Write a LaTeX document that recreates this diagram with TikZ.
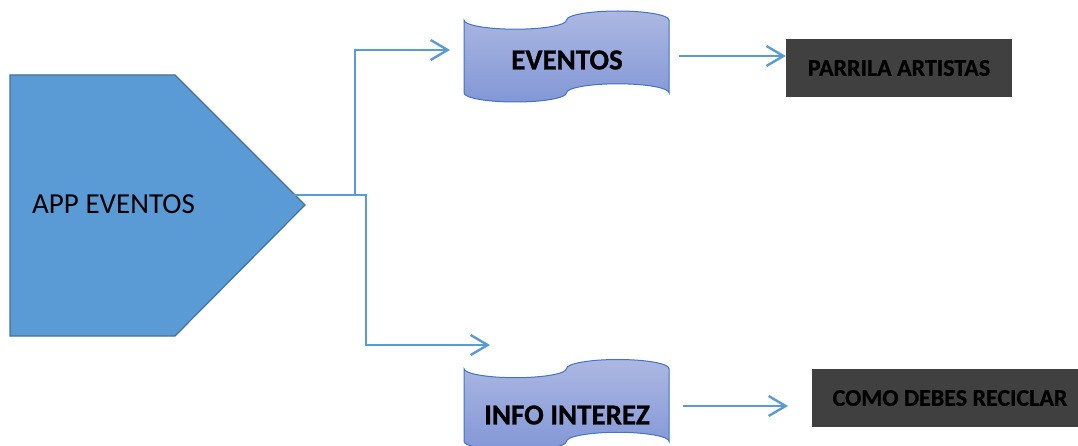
\documentclass[tikz,border=0pt]{standalone}
\usepackage{fontspec}
\setmainfont{Carlito}[BoldFeatures={FakeBold=0.8}]
\usetikzlibrary{arrows.meta}
\definecolor{appfill}{HTML}{5B9BD5}
\definecolor{appline}{HTML}{41719C}
\definecolor{connc}{HTML}{5B9BD5}
\definecolor{tapetop}{RGB}{172,184,226}
\definecolor{tapebot}{RGB}{130,151,214}
\definecolor{tapeline}{HTML}{4472C4}
\definecolor{darkbox}{HTML}{404040}
\newcommand\tapeshape{(0,-9.1) arc[start angle=180,end angle=360,x radius=51.25,y radius=9.1] arc[start angle=180,end angle=0,x radius=51.25,y radius=9.1] -- (205,-81.9) arc[start angle=0,end angle=180,x radius=51.25,y radius=9.1] arc[start angle=0,end angle=-180,x radius=51.25,y radius=9.1] -- cycle}
\begin{document}
\begin{tikzpicture}[x=1pt,y=1pt,
  connline/.style={draw=connc, line width=2.4pt},
  arr/.style={connline, -{Straight Barb[length=17pt,width=20pt]}},
  tapestyle/.style={top color=tapetop, bottom color=tapebot, draw=tapeline, line width=1pt},
  tapetext/.style={font=\bfseries\fontsize{29}{34}\selectfont, text=black},
  darkboxstyle/.style={fill=darkbox, draw=none, inner sep=0pt, minimum height=58pt, text=black, font=\bfseries\fontsize{24}{28}\selectfont}]
\useasboundingbox (0,0) rectangle (1078,445);
\clip (0,0) rectangle (1078,445);
% pentagon
\draw[fill=appfill, draw=appline, line width=1.2pt] (10,370) -- (175,370) -- (305,240) -- (175,109) -- (10,109) -- cycle;
\node[anchor=west, inner sep=0pt, font=\fontsize{29}{34}\selectfont] (app) at (32,241) {APP EVENTOS};
% tapes
\draw[tapestyle, shift={(464,434)}] \tapeshape;
\node[tapetext] (ev) at (567,385) {EVENTOS};
\draw[tapestyle, shift={(464,85.5)}] \tapeshape;
\node[tapetext] (info) at (567,30) {INFO INTEREZ};
% dark boxes
\node[darkboxstyle, minimum width=226pt] (parrila) at (899,377) {PARRILA ARTISTAS};
\node[darkboxstyle, minimum width=276pt] (como) at (950,47) {COMO DEBES RECICLAR};
% connectors
\coordinate (appout) at (293,250);
\coordinate (j1) at (355,250);
\coordinate (j2) at (366,250);
\coordinate (evin) at (450,395);
\coordinate (infoin) at (490,100);
\coordinate (evout) at (679,389);
\coordinate (infoout) at (683,39);
\coordinate (comoin) at (788,39);
\draw[arr] (appout) -- (j2) |- (infoin);
\draw[arr] (j1) |- (evin);
\draw[arr] (evout) -- (evout -| parrila.west);
\draw[arr] (infoout) -- (comoin);
\end{tikzpicture}
\end{document}
